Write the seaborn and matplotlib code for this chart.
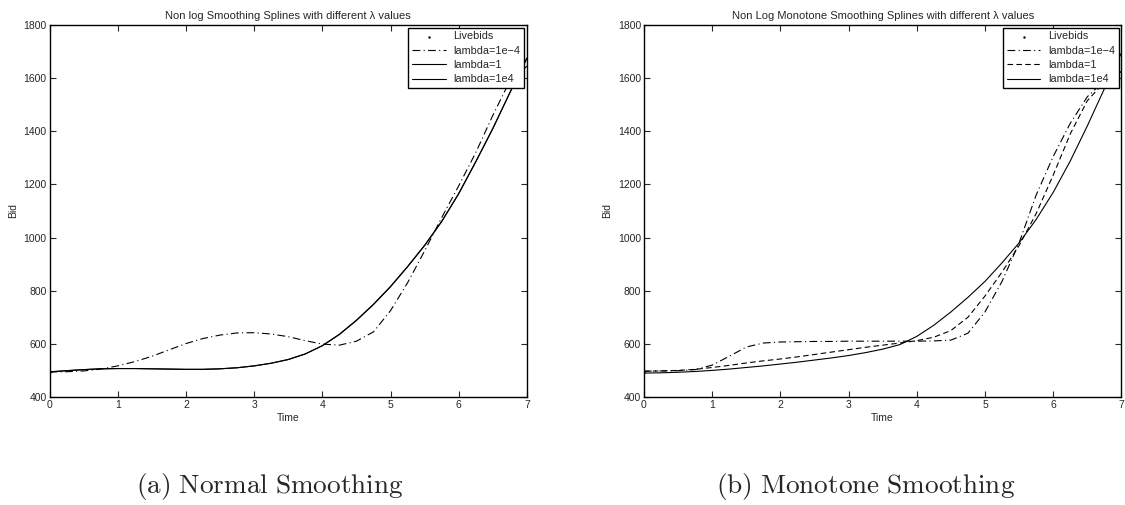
import matplotlib
matplotlib.use("Agg")
import matplotlib.pyplot as plt
import seaborn as sns
import numpy as np
import pandas as pd

# ---------------- data ----------------
time = [0, 0.25, 0.5, 0.75, 1, 1.25, 1.5, 1.75, 2, 2.25, 2.5, 2.75, 3, 3.25, 3.5,
        3.75, 4, 4.25, 4.5, 4.75, 5, 5.25, 5.5, 5.75, 6, 6.25, 6.5, 6.75, 7]

# (a) Normal smoothing
norm_l1e_4 = [494, 495, 498, 505, 517, 533, 553, 577, 601, 620, 633, 641, 642, 637, 627,
              612, 599, 595, 610, 645, 725, 830, 950, 1075, 1195, 1320, 1460, 1590, 1645]
norm_l1 = [494, 499, 503, 506, 507, 507, 506, 505, 504, 504, 506, 510, 517, 527, 541,
           562, 593, 635, 688, 748, 815, 890, 970, 1060, 1165, 1285, 1410, 1545, 1675]
norm_l1e4 = [495, 499, 503, 506, 507, 507, 506, 505, 504, 504, 506, 510, 517, 527, 541,
             562, 593, 636, 689, 749, 816, 891, 971, 1061, 1166, 1286, 1411, 1546, 1676]

# (b) Monotone smoothing
mono_l1e_4 = [497, 498, 499, 503, 520, 553, 588, 603, 607, 608, 609, 609, 610, 610, 610,
              610, 610, 611, 614, 640, 720, 835, 980, 1160, 1305, 1430, 1530, 1590, 1625]
mono_l1 = [497, 498, 500, 504, 511, 519, 528, 536, 543, 551, 560, 569, 578, 587, 595,
           603, 612, 625, 650, 700, 780, 870, 970, 1090, 1235, 1390, 1515, 1585, 1625]
mono_l1e4 = [490, 491, 493, 496, 500, 505, 511, 517, 524, 531, 539, 547, 556, 567, 580,
             597, 628, 670, 720, 775, 835, 905, 980, 1068, 1170, 1288, 1420, 1560, 1695]

live_time = [0.0, 6.87, 6.89]
live_bid = [495, 1630, 1582]

titles = ["Non log Smoothing Splines with different \u03bb values",
          "Non Log Monotone Smoothing Splines with different \u03bb values"]
captions = [r"$\mathrm{(a)\ Normal\ Smoothing}$", r"$\mathrm{(b)\ Monotone\ Smoothing}$"]
xticks = [0, 1, 2, 3, 4, 5, 6, 7]
yticks = [400, 600, 800, 1000, 1200, 1400, 1600, 1800]

# ---------------- style ----------------
sns.set_style("white")
plt.rcParams["font.family"] = ["Liberation Sans", "DejaVu Sans"]
plt.rcParams["mathtext.fontset"] = "cm"

fig = plt.figure(figsize=(11.25, 5.05), dpi=100)
ax_pos = [[0.044, 0.2139, 0.4244, 0.7366], [0.5724, 0.2139, 0.4244, 0.7366]]
caption_x = [270 / 1125, 866 / 1125]

panels = [
    [(norm_l1e_4, "lambda=1e\u22124", (0, (7, 3, 1, 3))),
     (norm_l1, "lambda=1", "-"),
     (norm_l1e4, "lambda=1e4", "-")],
    [(mono_l1e_4, "lambda=1e\u22124", (0, (7, 3, 1, 3))),
     (mono_l1, "lambda=1", (0, (5, 3))),
     (mono_l1e4, "lambda=1e4", "-")],
]

for i in range(2):
    ax = fig.add_axes(ax_pos[i])
    sns.scatterplot(x=live_time, y=live_bid, ax=ax, color="black", marker=".",
                    s=12, linewidth=0, label="Livebids")
    for ys, lab, ls in panels[i]:
        df = pd.DataFrame({"Time": time, "Bid": ys})
        sns.lineplot(data=df, x="Time", y="Bid", ax=ax, color="black",
                     linestyle=ls, linewidth=0.8, label=lab,
                     estimator=None, sort=False)
    ax.set_xlim(0, 7)
    ax.set_ylim(400, 1800)
    ax.set_xticks(xticks)
    ax.set_yticks(yticks)
    ax.tick_params(direction="in", length=4, width=0.8, labelsize=7.5,
                   top=True, right=True, bottom=True, left=True, pad=2)
    for sp in ax.spines.values():
        sp.set_color("black")
        sp.set_linewidth(1.0)
    ax.set_xlabel("Time", fontsize=7.5, labelpad=2)
    ax.set_ylabel("Bid", fontsize=7.5, labelpad=4)
    ax.set_title(titles[i], fontsize=8, pad=4)
    leg = ax.legend(loc="upper right", fontsize=7.8, frameon=True, fancybox=False,
                    borderaxespad=0.25, handlelength=3.1, labelspacing=0.4,
                    borderpad=0.35, handletextpad=0.7)
    leg.get_frame().set_edgecolor("black")
    leg.get_frame().set_linewidth(1.0)
    leg.get_frame().set_alpha(1)
    fig.text(caption_x[i], 0.005, captions[i], ha="center", va="bottom", fontsize=19.6)

fig.savefig("out.png", dpi=100)
